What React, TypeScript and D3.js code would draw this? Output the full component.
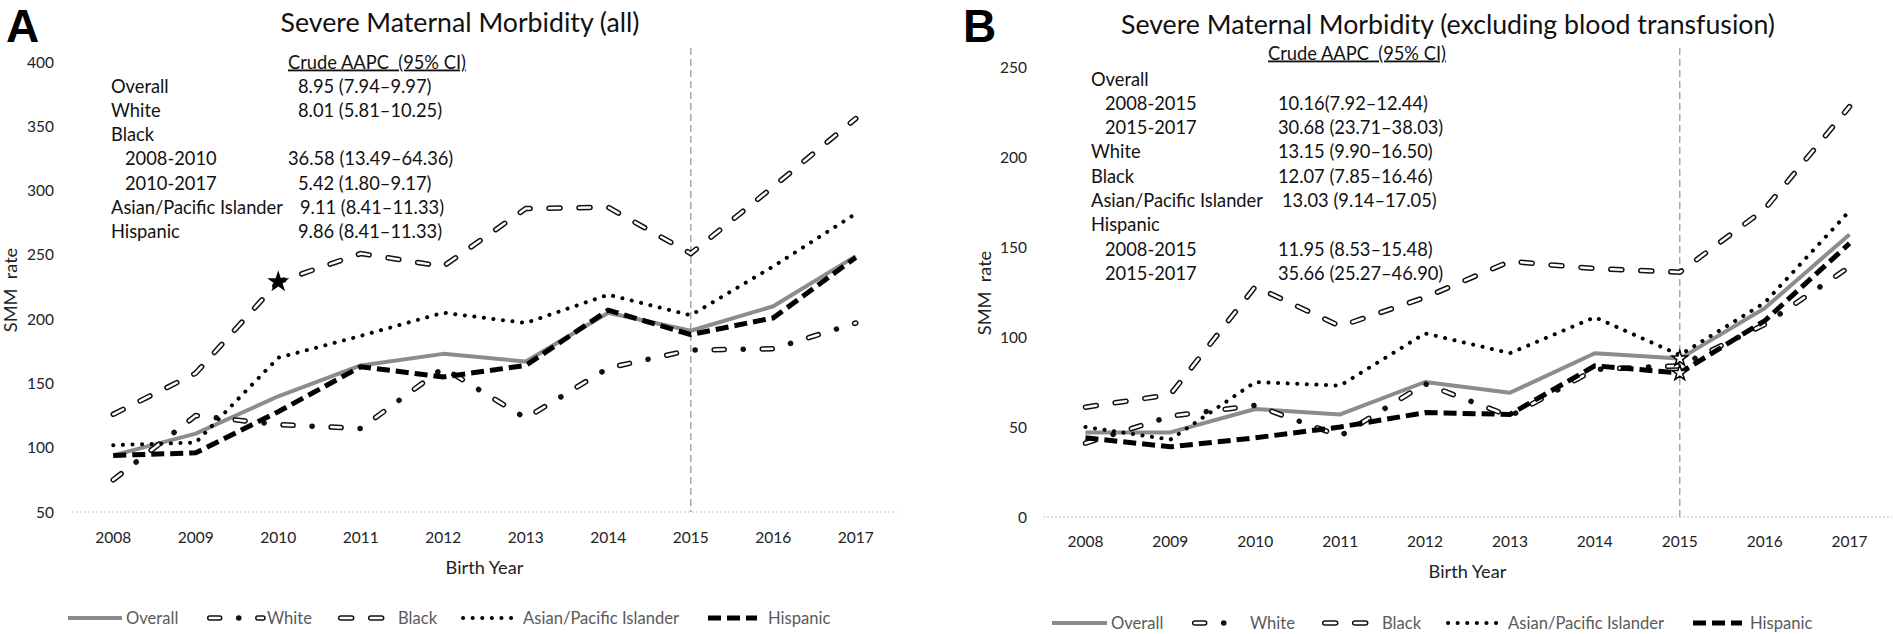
import React from 'react';
import * as d3 from 'd3';

const years = [2008, 2009, 2010, 2011, 2012, 2013, 2014, 2015, 2016, 2017];
const seriesNames = ['Overall', 'White', 'Black', 'Asian/Pacific Islander', 'Hispanic'];

// panel A: all SMM
const overallA = [94, 111, 140, 164, 173, 167, 205, 191, 210, 249];
const whiteA = [75, 125, 118, 115, 162, 123, 162, 176, 177, 197];
const blackA = [126, 158, 229, 251, 241, 286, 287, 251, 303, 356];
const asianA = [102, 104, 170, 187, 205, 197, 219, 203, 241, 282];
const hispanicA = [94, 96, 128, 163, 155, 164, 207, 188, 201, 248];
const yTicksA = [50, 100, 150, 200, 250, 300, 350, 400];

// panel B: excluding blood transfusion
const overallB = [47, 47, 60, 57, 75, 69, 91, 88, 116, 157];
const whiteB = [41, 56, 62, 45, 74, 56, 82, 84, 107, 139];
const blackB = [61, 68, 128, 106, 122, 142, 138, 136, 171, 228];
const asianB = [50, 43, 75, 73, 102, 91, 111, 90, 119, 170];
const hispanicB = [44, 39, 44, 50, 58, 57, 84, 80, 109, 152];
const yTicksB = [0, 50, 100, 150, 200, 250];

// crude AAPC tables: [label, value, indented]
const aapcA: [string, string, boolean][] = [
  ['Overall', '8.95 (7.94–9.97)', false],
  ['White', '8.01 (5.81–10.25)', false],
  ['Black', '', false],
  ['2008-2010', '36.58 (13.49–64.36)', true],
  ['2010-2017', '5.42 (1.80–9.17)', true],
  ['Asian/Pacific Islander', '9.11 (8.41–11.33)', false],
  ['Hispanic', '9.86 (8.41–11.33)', false],
];
const aapcB: [string, string, boolean][] = [
  ['Overall', '', false],
  ['2008-2015', '10.16(7.92–12.44)', true],
  ['2015-2017', '30.68 (23.71–38.03)', true],
  ['White', '13.15 (9.90–16.50)', false],
  ['Black', '12.07 (7.85–16.46)', false],
  ['Asian/Pacific Islander', '13.03 (9.14–17.05)', false],
  ['Hispanic', '', false],
  ['2008-2015', '11.95 (8.53–15.48)', true],
  ['2015-2017', '35.66 (25.27–46.90)', true],
];

// joinpoint stars: [series index, year]
const starsA: [number, number][] = [[2, 2010]];
const starsB: [number, number][] = [[0, 2015], [4, 2015]];

const FONT = "Lato, 'Open Sans', sans-serif";
const ANN = 18.3;
const TICK = 15.5;
const AXT = 18.2;
const LEG = 16.6;

const panels = [
  {
    letter: 'A', letterX: 6, title: 'Severe Maternal Morbidity (all)', titleX: 460, titleY: 32,
    left: 72, right: 897, top: 62, bottom: 512, domain: [50, 400], ticks: yTicksA, tickRight: 54,
    series: [overallA, whiteA, blackA, asianA, hispanicA], stars: starsA, starSize: 95, starFill: '#000',
    ylabX: 17, ylabY: 290, tickY: 542.5, xtitleY: 573.5,
    headX: 288, headY: 68.5, labX: 111, rowY0: 92.5, valX: [298, 298, 298, 288, 298, 300, 298], rows: aapcA,
    legY: 618, legStart: [68, 207, 338, 463, 708], legEnd: [122, 263, 388, 512, 757], legText: [126, 267, 398, 523, 768],
  },
  {
    letter: 'B', letterX: 963, title: 'Severe Maternal Morbidity (excluding blood transfusion)', titleX: 1448, titleY: 34,
    left: 1043, right: 1892, top: 67, bottom: 517, domain: [0, 250], ticks: yTicksB, tickRight: 1027,
    series: [overallB, whiteB, blackB, asianB, hispanicB], stars: starsB, starSize: 75, starFill: '#fff',
    ylabX: 991, ylabY: 293, tickY: 546.5, xtitleY: 577.5,
    headX: 1268, headY: 59.5, labX: 1091, rowY0: 85.5, valX: [1278, 1278, 1278, 1278, 1278, 1282, 1278, 1278, 1278], rows: aapcB,
    legY: 623, legStart: [1052, 1192, 1322, 1448, 1693], legEnd: [1107, 1227, 1370, 1498, 1742], legText: [1111, 1250, 1382, 1508, 1750],
  },
];

function strokes(d: string, idx: number, key: string) {
  if (idx === 0) {
    return <path key={key} d={d} fill="none" stroke="#8c8c8c" strokeWidth={4} strokeLinejoin="round" />;
  }
  if (idx === 1) {
    return (
      <g key={key}>
        <path d={d} fill="none" stroke="#111" strokeWidth={5.5} strokeLinecap="round" strokeDasharray="10 19 0.1 19" />
        <path d={d} fill="none" stroke="#fff" strokeWidth={2.5} strokeLinecap="round" strokeDasharray="10 38.1" />
      </g>
    );
  }
  if (idx === 2) {
    return (
      <g key={key}>
        <path d={d} fill="none" stroke="#111" strokeWidth={5.5} strokeLinecap="round" strokeDasharray="11 19" />
        <path d={d} fill="none" stroke="#fff" strokeWidth={2.5} strokeLinecap="round" strokeDasharray="11 19" />
      </g>
    );
  }
  if (idx === 3) {
    return <path key={key} d={d} fill="none" stroke="#000" strokeWidth={4} strokeLinecap="round" strokeDasharray="0.1 9.5" />;
  }
  return <path key={key} d={d} fill="none" stroke="#000" strokeWidth={5} strokeDasharray="13 6" />;
}

function Panel({ p }: { p: any }) {
  const x = d3.scalePoint<number>().domain(years).range([p.left, p.right]).padding(0.5);
  const y = d3.scaleLinear().domain(p.domain).range([p.bottom, p.top]);
  const line = d3.line<number>().x((_, i) => x(years[i]) as number).y(v => y(v));
  const star = d3.symbol(d3.symbolStar, p.starSize)() as string;
  const x2015 = x(2015) as number;
  const mid = (p.left + p.right) / 2;

  return (
    <g>
      <text x={p.letterX} y={42} fontFamily="'Liberation Sans', Arial, sans-serif" fontWeight="bold" fontSize={46} fill="#000">{p.letter}</text>
      <text x={p.titleX} y={p.titleY} textAnchor="middle" fontSize={26.7} fill="#111">{p.title}</text>

      {/* baseline grid and 2015 marker */}
      <line x1={p.left} x2={p.right} y1={y(p.domain[0])} y2={y(p.domain[0])} stroke="#c4c4c4" strokeWidth={1} strokeDasharray="2 2" />
      <line x1={x2015} x2={x2015} y1={48} y2={y(p.domain[0])} stroke="#a8a8a8" strokeWidth={1.5} strokeDasharray="7 4" />

      {p.ticks.map((t: number) => (
        <text key={t} x={p.tickRight} y={y(t) + 5.5} textAnchor="end" fontSize={TICK} fill="#222">{t}</text>
      ))}
      {years.map(yr => (
        <text key={yr} x={x(yr)} y={p.tickY} textAnchor="middle" fontSize={TICK} fill="#222">{yr}</text>
      ))}
      <text x={mid} y={p.xtitleY} textAnchor="middle" fontSize={AXT} fill="#222">Birth Year</text>
      <text transform={`translate(${p.ylabX},${p.ylabY}) rotate(-90)`} textAnchor="middle" fontSize={AXT} fill="#222" style={{ whiteSpace: 'pre' }}>{'SMM  rate'}</text>

      {/* AAPC table */}
      <text x={p.headX} y={p.headY} fontSize={ANN} fill="#111" textDecoration="underline" style={{ whiteSpace: 'pre' }}>{'Crude AAPC  (95% CI)'}</text>
      {p.rows.map((r: [string, string, boolean], i: number) => (
        <g key={i}>
          <text x={p.labX + (r[2] ? 14 : 0)} y={p.rowY0 + i * 24.3} fontSize={ANN} fill="#111">{r[0]}</text>
          {r[1] && <text x={p.valX[i]} y={p.rowY0 + i * 24.3} fontSize={ANN} fill="#111">{r[1]}</text>}
        </g>
      ))}

      {p.series.map((s: number[], i: number) => strokes(line(s) as string, i, `s${i}`))}

      {p.stars.map(([si, yr]: [number, number], i: number) => (
        <path key={i} d={star} transform={`translate(${x(yr)},${y(p.series[si][years.indexOf(yr)])})`} fill={p.starFill} stroke="#000" strokeWidth={1.5} />
      ))}

      {/* legend */}
      {seriesNames.map((n, i) => (
        <g key={n}>
          {strokes(`M${p.legStart[i] + (i === 1 || i === 2 ? 2.7 : 0)},${p.legY}H${p.legEnd[i]}`, i, `l${i}`)}
          <text x={p.legText[i]} y={p.legY + 6} fontSize={LEG} fill="#5a5a5a">{n}</text>
        </g>
      ))}
    </g>
  );
}

export default function App() {
  return (
    <svg width={1893} height={634} style={{ position: 'absolute', left: 0, top: 0 }} fontFamily={FONT}>
      <rect width={1893} height={634} fill="#fff" />
      {panels.map(p => <Panel key={p.letter} p={p} />)}
    </svg>
  );
}
